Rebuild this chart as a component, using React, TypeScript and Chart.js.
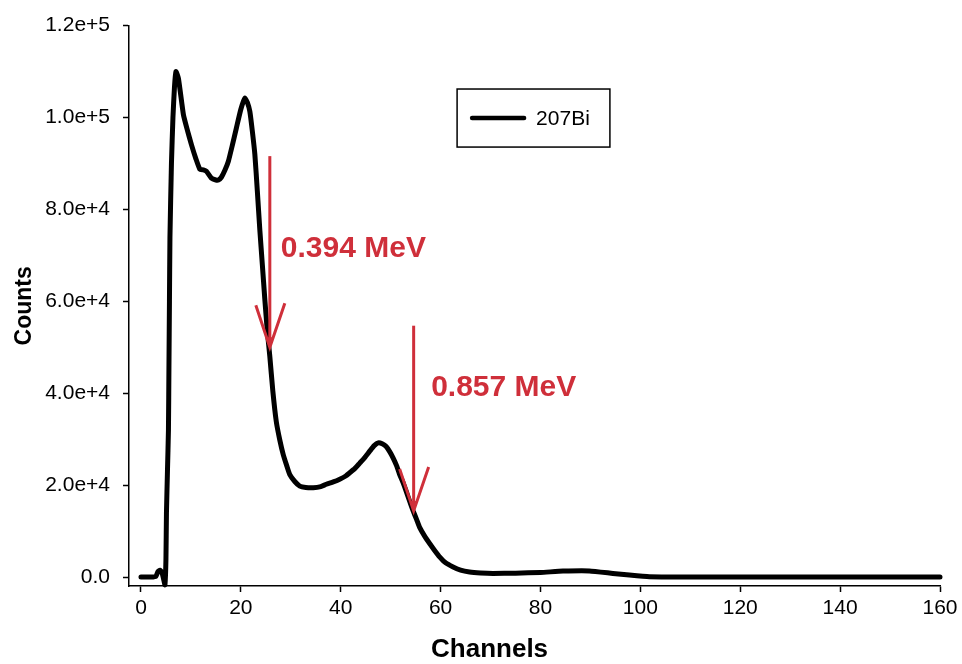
import React, { useEffect, useRef } from "react";
import { Chart, registerables } from "chart.js";

Chart.register(...registerables);

// 207Bi spectrum: channel number vs. counts
const CHANNELS = [
  0, 1, 2, 3, 3.4, 3.8, 4.2, 4.6, 4.8, 5.0, 5.1, 5.3, 5.5, 5.6, 5.7, 5.8, 6.1, 6.4, 6.7, 7.0,
  7.5, 8.5, 9.3, 10.1, 11.0, 11.8, 12.5, 13.1, 14.1, 15.0, 15.5, 16.1, 16.8, 17.5, 18.3, 19.1,
  20.0, 20.8, 21.3, 21.8, 22.3, 22.8, 23.3, 23.8, 24.3, 24.8, 25.3, 25.8, 26.4, 27.1, 27.8,
  28.5, 29.2, 29.8, 30.8, 31.8, 33.0, 34.5, 36.0, 37.1, 38.5, 39.8, 41.0, 41.8, 42.8, 43.8,
  44.8, 45.8, 46.7, 47.5, 48.3, 49.1, 49.8, 50.5, 51.2, 51.8, 52.5, 53.1, 53.8, 54.5, 55.2,
  55.8, 56.8, 57.8, 58.8, 59.8, 61.0, 62.5, 64.0, 65.8, 68.0, 70.5, 75, 80, 84.5, 89.8, 94.5,
  97.8, 101.8, 106, 110, 120, 130, 140, 150, 160,
];

const COUNTS = [
  0, 0, 0, 200, 1200, 1500, 1000, -800, -1700, 4000, 14000, 23000, 32000, 46000, 60000, 74000,
  90000, 100000, 106500, 110000, 108500, 100600, 97200, 94100, 91000, 88700, 88600, 88300,
  86800, 86400, 86400, 87000, 88500, 90500, 94000, 97700, 101800, 104200, 103300, 101300,
  97000, 92000, 84000, 75500, 68000, 60400, 53500, 48000, 40500, 33800, 29800, 26600, 24200,
  22300, 20800, 19800, 19500, 19450, 19700, 20200, 20700, 21300, 22000, 22700, 23600, 24800,
  26000, 27400, 28600, 29200, 29000, 28400, 27300, 25900, 24200, 22300, 20500, 18700, 16500,
  14400, 12500, 10800, 8900, 7300, 5800, 4400, 3100, 2200, 1500, 1100, 900, 800, 850, 1000,
  1300, 1350, 800, 430, 50, 0, 0, 0, 0, 0, 0, 0,
];

const SERIES_LABEL = "207Bi";
const X_TITLE = "Channels";
const Y_TITLE = "Counts";

const X_TICKS = [0, 20, 40, 60, 80, 100, 120, 140, 160];
const Y_TICKS = [0, 20000, 40000, 60000, 80000, 100000, 120000];

// Energy markers: arrow channel, arrow top, arrow tip, label anchor
const MARKER_LABELS = ["0.394 MeV", "0.857 MeV"];
const MARKER_CHANNELS = [25.8, 54.6];
const MARKER_TOPS = [91600, 54700];
const MARKER_TIPS = [50000, 14400];
const MARKER_TEXT_CHANNELS = [28.0, 58.1];
const MARKER_TEXT_COUNTS = [71400, 41200];

const FONT = "'Liberation Sans', Arial, Helvetica, sans-serif";
const RED = "#cf2f3a";

const overlay = {
  id: "overlay",
  afterDatasetsDraw(chart: any) {
    const { ctx } = chart;
    const x = chart.scales.x;
    const y = chart.scales.y;
    ctx.save();

    // legend box
    const bl = x.getPixelForValue(63.3);
    const br = x.getPixelForValue(93.9);
    const bt = y.getPixelForValue(106200);
    const bb = y.getPixelForValue(93570);
    ctx.strokeStyle = "#000";
    ctx.lineWidth = 1.5;
    ctx.strokeRect(bl, bt, br - bl, bb - bt);
    const my = (bt + bb) / 2;
    ctx.lineWidth = 4.5;
    ctx.lineCap = "round";
    ctx.beginPath();
    ctx.moveTo(bl + 15, my);
    ctx.lineTo(bl + 67, my);
    ctx.stroke();
    ctx.fillStyle = "#000";
    ctx.font = `21px ${FONT}`;
    ctx.textAlign = "left";
    ctx.textBaseline = "middle";
    ctx.fillText(chart.data.datasets[0].label, bl + 79, my + 1);

    // x-axis title, set left of the axis centre
    ctx.font = `bold 26px ${FONT}`;
    ctx.textAlign = "center";
    ctx.textBaseline = "middle";
    ctx.fillText(X_TITLE, x.getPixelForValue(69.8), x.bottom - 14);

    // energy arrows
    MARKER_LABELS.forEach((label, i) => {
      const px = x.getPixelForValue(MARKER_CHANNELS[i]);
      const top = y.getPixelForValue(MARKER_TOPS[i]);
      const tip = y.getPixelForValue(MARKER_TIPS[i]);
      ctx.strokeStyle = RED;
      ctx.fillStyle = RED;
      ctx.lineCap = "butt";
      ctx.lineWidth = 3;
      ctx.beginPath();
      ctx.moveTo(px, top);
      ctx.lineTo(px, tip - 4);
      ctx.stroke();
      ctx.beginPath();
      ctx.moveTo(px - 14, tip - 42);
      ctx.lineTo(px, tip);
      ctx.lineTo(px + 15, tip - 44);
      ctx.stroke();
      ctx.beginPath();
      ctx.moveTo(px - 4, tip - 10);
      ctx.lineTo(px, tip);
      ctx.lineTo(px + 4, tip - 10);
      ctx.closePath();
      ctx.fill();

      ctx.font = `bold 30px ${FONT}`;
      ctx.textAlign = "left";
      ctx.textBaseline = "middle";
      ctx.fillText(
        label,
        x.getPixelForValue(MARKER_TEXT_CHANNELS[i]),
        y.getPixelForValue(MARKER_TEXT_COUNTS[i])
      );
    });

    ctx.restore();
  },
};

export default function App() {
  const canvasRef = useRef<HTMLCanvasElement | null>(null);

  useEffect(() => {
    const canvas = canvasRef.current;
    if (!canvas) return;
    const points = CHANNELS.map((c, i) => ({ x: c, y: COUNTS[i] }));

    const chart = new Chart(canvas, {
      type: "line",
      data: {
        datasets: [
          {
            label: SERIES_LABEL,
            data: points,
            borderColor: "#000",
            backgroundColor: "#000",
            borderWidth: 5,
            pointRadius: 0,
            tension: 0.15,
            borderJoinStyle: "round",
            borderCapStyle: "round",
            clip: false,
          } as any,
        ],
      },
      options: {
        animation: false,
        responsive: false,
        devicePixelRatio: 1,
        layout: { padding: { top: 20, right: 22, left: 0, bottom: 0 } },
        plugins: {
          legend: { display: false },
          tooltip: { enabled: false },
        },
        scales: {
          x: {
            type: "linear",
            min: -2.4,
            max: 160,
            afterBuildTicks: (s: any) => {
              s.ticks = X_TICKS.map((v) => ({ value: v }));
            },
            afterFit: (s: any) => {
              s.height = 78;
            },
            border: { display: true, color: "#000", width: 1.5 },
            grid: {
              display: true,
              drawOnChartArea: false,
              drawTicks: true,
              tickLength: 6,
              tickWidth: 1.5,
              tickColor: "#000",
            },
            ticks: {
              color: "#000",
              padding: 4,
              maxRotation: 0,
              autoSkip: false,
              font: { family: FONT, size: 21 },
              callback: (v: any) => String(v),
            },
          },
          y: {
            type: "linear",
            min: -1940,
            max: 120000,
            afterBuildTicks: (s: any) => {
              s.ticks = Y_TICKS.map((v) => ({ value: v }));
            },
            afterFit: (s: any) => {
              s.width = 129;
            },
            border: { display: true, color: "#000", width: 1.5 },
            grid: {
              display: true,
              drawOnChartArea: false,
              drawTicks: true,
              tickLength: 6,
              tickWidth: 1.5,
              tickColor: "#000",
            },
            ticks: {
              color: "#000",
              padding: 13,
              autoSkip: false,
              font: { family: FONT, size: 21 },
              callback: (v: any) => (Number(v) === 0 ? "0.0" : Number(v).toExponential(1)),
            },
            title: {
              display: true,
              text: Y_TITLE,
              color: "#000",
              font: { family: FONT, size: 23, weight: "bold", lineHeight: 1 },
              padding: { top: 13, bottom: 0 },
            },
          },
        },
      },
      plugins: [overlay],
    });

    return () => chart.destroy();
  }, []);

  return (
    <div
      style={{
        position: "fixed",
        left: 0,
        top: 0,
        width: 962,
        height: 664,
        background: "#fff",
      }}
    >
      <canvas ref={canvasRef} width={962} height={664} />
    </div>
  );
}
